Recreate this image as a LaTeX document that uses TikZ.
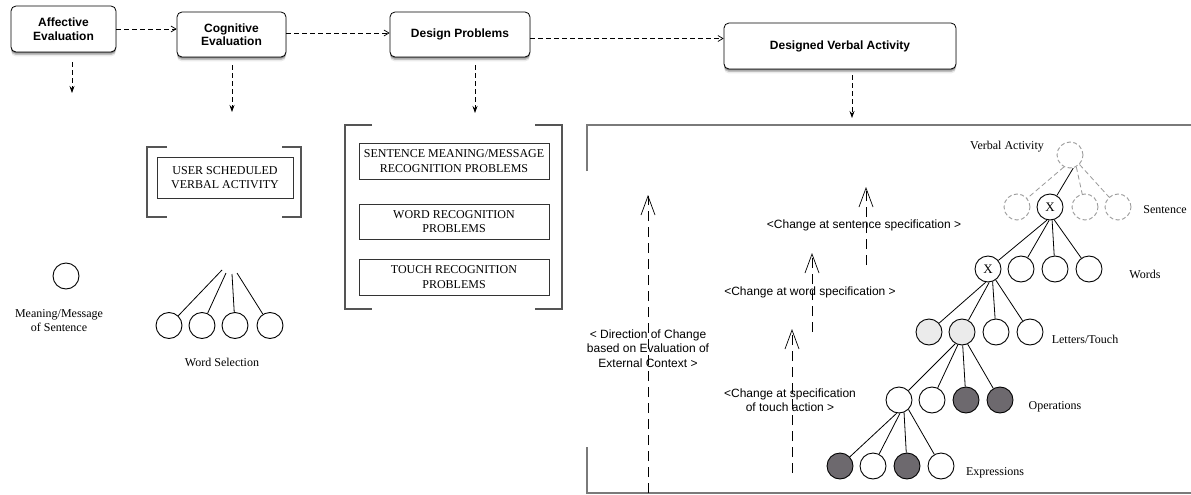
\documentclass[tikz,border=0pt]{standalone}
\usepackage{fontspec}
\setmainfont{Liberation Serif}
\newfontfamily\hv{Liberation Sans}
\usetikzlibrary{arrows.meta,shadows}

\definecolor{shade}{HTML}{6D696E}
\definecolor{pale}{HTML}{EBEBEB}
\definecolor{framegray}{HTML}{7A7A7A}
\definecolor{brk}{HTML}{555555}
\definecolor{ghostgray}{HTML}{9A9A9A}

\begin{document}
\begin{tikzpicture}[x=1pt,y=-1pt,
  stage/.style={draw, rounded corners=5pt, fill=white, line width=0.8pt,
    font=\hv\bfseries\fontsize{12}{13.5}\selectfont, align=center, inner sep=0pt,
    drop shadow={shadow xshift=0pt, shadow yshift=-1.5pt, opacity=.30, fill=black},
    drop shadow={shadow xshift=0pt, shadow yshift=-3pt, opacity=.18, fill=black},
    drop shadow={shadow xshift=0pt, shadow yshift=-4.5pt, opacity=.08, fill=black}},
  flow/.style={line width=0.7pt, dash pattern=on 5pt off 3pt,
    -{Straight Barb[length=5pt,width=6pt]}},
  godown/.style={line width=0.7pt, dash pattern=on 5pt off 3pt,
    -{Stealth[length=7pt,width=5pt]}},
  prob/.style={draw=black!80, line width=1pt, inner sep=0pt, align=center,
    font=\fontsize{12}{14.5}\selectfont},
  brace/.style={draw=brk, line width=1.4pt},
  frm/.style={draw=framegray, line width=2pt},
  lbl/.style={font=\fontsize{12}{14.5}\selectfont, align=center},
  sans/.style={font=\hv\fontsize{12}{14.5}\selectfont, align=center},
  chg/.style={line width=0.7pt, dash pattern=on 10pt off 6pt,
    -{Straight Barb[length=19pt,width=14pt,line width=0.7pt]}},
  tc/.style={circle, draw, line width=0.9pt, minimum size=26pt, inner sep=0pt,
    fill=white, font=\fontsize{13}{13}\selectfont},
  ghost/.style={tc, draw=ghostgray, dash pattern=on 4pt off 2.5pt},
  edge/.style={line width=0.8pt},
  ghostedge/.style={draw=ghostgray, line width=0.8pt, dash pattern=on 5pt off 3pt},
]
\useasboundingbox (0,0) rectangle (1191,495);
\fill[white] (0,0) rectangle (1191,495);

% ---- top row of stages
\node[stage, minimum width=105pt, minimum height=46pt] (aff) at (63.5,29) {Affective\\Evaluation};
\node[stage, minimum width=109pt, minimum height=45pt] (cog) at (231.5,34.5) {Cognitive\\Evaluation};
\node[stage, minimum width=140pt, minimum height=45pt] (des) at (460,34.5) {Design Problems};
\node[stage, minimum width=232pt, minimum height=46pt] (dva) at (840,46) {Designed Verbal Activity};

\draw[flow] (aff.east) -- (aff.east -| cog.west);
\draw[flow] ([yshift=1.5pt]cog.east) -- ([yshift=1.5pt]cog.east -| des.west);
\draw[flow] ([yshift=-4pt]des.east) -- ([yshift=-4pt]des.east -| dva.west);

\coordinate (affdown) at (72,93);
\coordinate (cogdown) at (232,112);
\coordinate (desdown) at (475,113);
\coordinate (dvadown) at (852,118);
\draw[godown, shorten <=10pt] (affdown |- aff.south) -- (affdown);
\draw[godown, shorten <=8pt] (cogdown |- cog.south) -- (cogdown);
\draw[godown, shorten <=8pt] (desdown |- des.south) -- (desdown);
\draw[godown, shorten <=6pt] (dvadown |- dva.south) -- (dvadown);

% ---- affective column
\node[tc] (msg) at (66,276) {};
\node[lbl] (msglbl) at (59,320.5) {Meaning/Message\\of Sentence};

% ---- cognitive column
\node[prob, minimum width=136pt, minimum height=41pt] (usr) at (225,177.5) {USER SCHEDULED\\VERBAL ACTIVITY};
\draw[brace] (167,147) -- (147,147) -- (147,217) -- (167,217);
\draw[brace] (282,147) -- (301,147) -- (301,217) -- (282,217);

\coordinate (ws1) at (222,270);
\coordinate (ws2) at (226,273);
\coordinate (ws3) at (232,274);
\coordinate (ws4) at (237,273);
\node[tc] (wc1) at (169,325.5) {};
\node[tc] (wc2) at (202,325.5) {};
\node[tc] (wc3) at (235,325.5) {};
\node[tc] (wc4) at (270,325.5) {};
\draw[edge] (ws1) -- (wc1);
\draw[edge] (ws2) -- (wc2);
\draw[edge] (ws3) -- (wc3);
\draw[edge] (ws4) -- (wc4);
\node[lbl] (wslbl) at (222,362) {Word Selection};

% ---- design problems column
\node[prob, minimum width=190pt, minimum height=36pt] (p1) at (454,161) {SENTENCE MEANING/MESSAGE\\RECOGNITION PROBLEMS};
\node[prob, minimum width=190pt, minimum height=35pt] (p2) at (454,221.5) {WORD RECOGNITION\\PROBLEMS};
\node[prob, minimum width=190pt, minimum height=36pt] (p3) at (454,277) {TOUCH RECOGNITION\\PROBLEMS};
\draw[brace] (372,125) -- (345,125) -- (345,309) -- (372,309);
\draw[brace] (535,125) -- (562,125) -- (562,309) -- (535,309);

% ---- designed verbal activity frame
\draw[frm] (587,171) -- (587,125) -- (1191,125);
\draw[frm] (587,447) -- (587,493) -- (1191,493);

% change arrows
\coordinate (ext0) at (648,493);
\coordinate (ext1) at (648,195);
\coordinate (tch0) at (792,473);
\coordinate (tch1) at (792,329);
\coordinate (wrd0) at (812,332);
\coordinate (wrd1) at (812,253);
\coordinate (snt0) at (866,265);
\coordinate (snt1) at (866,187);
\draw[chg] (ext0) -- (ext1);
\draw[chg] (tch0) -- (tch1);
\draw[chg] (wrd0) -- (wrd1);
\draw[chg] (snt0) -- (snt1);
\node[sans] (extlbl) at (648,348.5) {< Direction of Change\\based on Evaluation of\\External Context >};
\node[sans] (tchlbl) at (790,400) {<Change at specification\\of touch action >};
\node[sans] (wrdlbl) at (810,292) {<Change at word specification >};
\node[sans] (sntlbl) at (864,225) {<Change at sentence specification >};

% hierarchy tree
\node[ghost] (va) at (1070,155) {};
\node[ghost] (s1) at (1017,207) {};
\node[tc]    (s2) at (1050,207) {X};
\node[ghost] (s3) at (1085,207) {};
\node[ghost] (s4) at (1118,207) {};

\node[tc] (w1) at (988,269) {X};
\node[tc] (w2) at (1021,269) {};
\node[tc] (w3) at (1055,269) {};
\node[tc] (w4) at (1089,269) {};

\node[tc, fill=pale] (l1) at (929,332) {};
\node[tc, fill=pale] (l2) at (962,332) {};
\node[tc] (l3) at (996,332) {};
\node[tc] (l4) at (1030,332) {};

\node[tc] (o1) at (899,400) {};
\node[tc] (o2) at (932,400) {};
\node[tc, fill=shade] (o3) at (966,400) {};
\node[tc, fill=shade] (o4) at (1000,400) {};

\node[tc, fill=shade] (e1) at (840,466) {};
\node[tc] (e2) at (873,466) {};
\node[tc, fill=shade] (e3) at (907,466) {};
\node[tc] (e4) at (941,466) {};

\draw[ghostedge] (va.-117) -- (s1);
\draw[edge] (va.-76) -- (s2);
\draw[ghostedge] (va.-62) -- (s3);
\draw[ghostedge] (va.-45) -- (s4);

\draw[edge] (s2.-103) -- (w1);
\draw[edge] (s2.-94) -- (w2);
\draw[edge] (s2.-81) -- (w3);
\draw[edge] (s2.-72) -- (w4);

\draw[edge] (w1.-100) -- (l1);
\draw[edge] (w1.-85) -- (l2);
\draw[edge] (w1.-70) -- (l3);
\draw[edge] (w1.-55) -- (l4);

\draw[edge] (l2.-120) -- (o1);
\draw[edge] (l2.-108) -- (o2);
\draw[edge] (l2.-87) -- (o3);
\draw[edge] (l2.-65) -- (o4);

\draw[edge] (o1.-100) -- (e1);
\draw[edge] (o1.-86) -- (e2);
\draw[edge] (o1.-68) -- (e3);
\draw[edge] (o1.-45) -- (e4);

\node[lbl] (valbl) at (1007,147) {Verbal Activity};
\node[lbl] (sentlbl) at (1165,210) {Sentence};
\node[lbl] (wordslbl) at (1145,274) {Words};
\node[lbl] (letlbl) at (1085,339) {Letters/Touch};
\node[lbl] (oplbl) at (1055,407) {Operations};
\node[lbl] (exlbl) at (995,473) {Expressions};
\end{tikzpicture}
\end{document}
